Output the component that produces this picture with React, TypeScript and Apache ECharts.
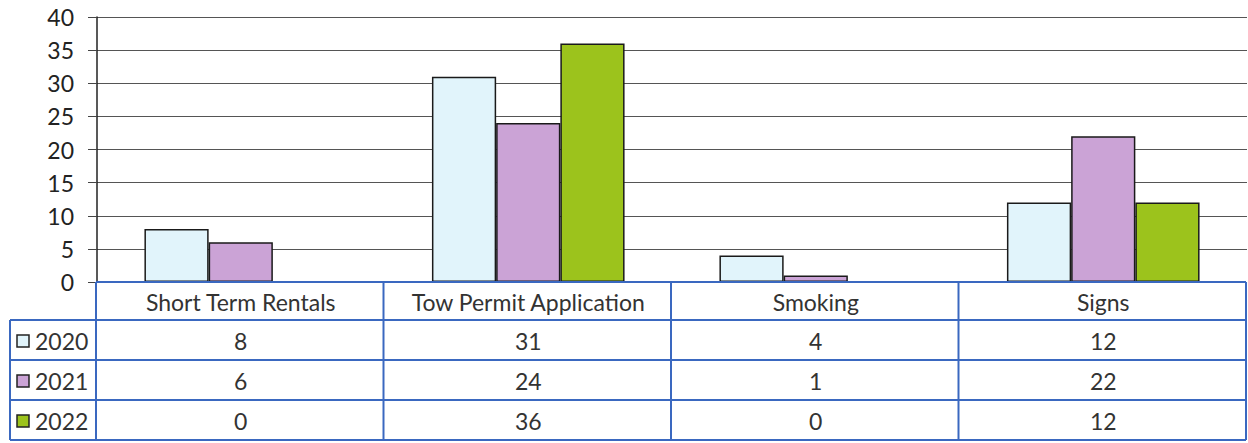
import React, { useEffect, useRef } from "react";
import * as echarts from "echarts";

const categories = ["Short Term Rentals", "Tow Permit Application", "Smoking", "Signs"];
const seriesNames = ["2020", "2021", "2022"];
const values2020 = [8, 31, 4, 12];
const values2021 = [6, 24, 1, 22];
const values2022 = [0, 36, 0, 12];
const yTicks = { min: 0, max: 40, interval: 5 };

const colors = ["#E1F4FB", "#CBA3D6", "#9CC31C"];
const W = 1248;
const H = 443;
const PLOT_LEFT = 97;
const PLOT_RIGHT = 1248;
const PLOT_TOP = 17;
const PLOT_BOTTOM = 282;
const TABLE_LEFT = 10;
const ROW_Y = [282, 320, 360, 400, 440];
const BLUE = "#3A68C0";
const FONT = "Lato, 'Open Sans', sans-serif";
const FS = 23;

export default function App() {
  const ref = useRef<HTMLDivElement>(null);
  useEffect(() => {
    if (!ref.current) return;
    const chart = echarts.init(ref.current, undefined, { renderer: "svg" });
    const allSeries = [values2020, values2021, values2022];
    const n = categories.length;
    const colW = (PLOT_RIGHT - 1 - PLOT_LEFT) / n;
    const graphics: any[] = [];
    const line = (x1: number, y1: number, x2: number, y2: number) => ({
      type: "line",
      shape: { x1, y1, x2, y2 },
      style: { stroke: BLUE, lineWidth: 2 },
      z: 100,
    });
    graphics.push(line(PLOT_LEFT - 1, ROW_Y[0], PLOT_RIGHT - 2, ROW_Y[0]));
    for (let r = 1; r < ROW_Y.length; r++) graphics.push(line(TABLE_LEFT, ROW_Y[r], PLOT_RIGHT - 2, ROW_Y[r]));
    graphics.push(line(TABLE_LEFT, ROW_Y[1], TABLE_LEFT, ROW_Y[4]));
    for (let c = 0; c <= n; c++) {
      const x = c === n ? PLOT_RIGHT - 2 : PLOT_LEFT - 1 + c * colW;
      graphics.push(line(x, ROW_Y[0], x, ROW_Y[4]));
    }
    categories.forEach((cat, c) => {
      graphics.push({
        type: "text",
        x: PLOT_LEFT + (c + 0.5) * colW,
        y: (ROW_Y[0] + ROW_Y[1]) / 2 + 1,
        style: { text: cat, fontSize: FS, fontFamily: FONT, fill: "#333", align: "center", verticalAlign: "middle" },
        z: 101,
      });
    });
    seriesNames.forEach((name, r) => {
      const cy = (ROW_Y[r + 1] + ROW_Y[r + 2]) / 2 + 1;
      graphics.push({
        type: "rect",
        shape: { x: 17, y: cy - 6, width: 12, height: 12 },
        style: { fill: colors[r], stroke: "#222", lineWidth: 1.5 },
        z: 101,
      });
      graphics.push({
        type: "text",
        x: 35,
        y: cy,
        style: { text: name, fontSize: FS, fontFamily: FONT, fill: "#333", align: "left", verticalAlign: "middle" },
        z: 101,
      });
      allSeries[r].forEach((v, c) => {
        graphics.push({
          type: "text",
          x: PLOT_LEFT + (c + 0.5) * colW,
          y: cy,
          style: { text: String(v), fontSize: FS, fontFamily: FONT, fill: "#333", align: "center", verticalAlign: "middle" },
          z: 101,
        });
      });
    });

    chart.setOption({
      animation: false,
      backgroundColor: "#ffffff",
      grid: { left: PLOT_LEFT, right: W - PLOT_RIGHT + 1, top: PLOT_TOP, bottom: H - PLOT_BOTTOM, containLabel: false },
      xAxis: {
        type: "category",
        data: categories,
        axisLine: { show: false },
        axisTick: { show: false },
        axisLabel: { show: false },
        splitLine: { show: false },
      },
      yAxis: {
        type: "value",
        min: yTicks.min,
        max: yTicks.max,
        interval: yTicks.interval,
        axisLine: { show: true, lineStyle: { color: "#222", width: 1.5 } },
        axisTick: { show: true, length: 9, lineStyle: { color: "#444", width: 1 } },
        axisLabel: { fontSize: FS, fontFamily: FONT, color: "#222", margin: 23 },
        splitLine: { show: true, lineStyle: { color: "#555", width: 1 } },
      },
      series: seriesNames.map((name, i) => ({
        name,
        type: "bar",
        data: allSeries[i],
        barGap: "0%",
        barCategoryGap: "33%",
        itemStyle: { color: colors[i], borderColor: "#1a1a1a", borderWidth: 1.5 },
      })),
      graphic: graphics,
    });
    return () => chart.dispose();
  }, []);
  return <div ref={ref} style={{ position: "absolute", left: 0, top: 0, width: W, height: H }} />;
}
